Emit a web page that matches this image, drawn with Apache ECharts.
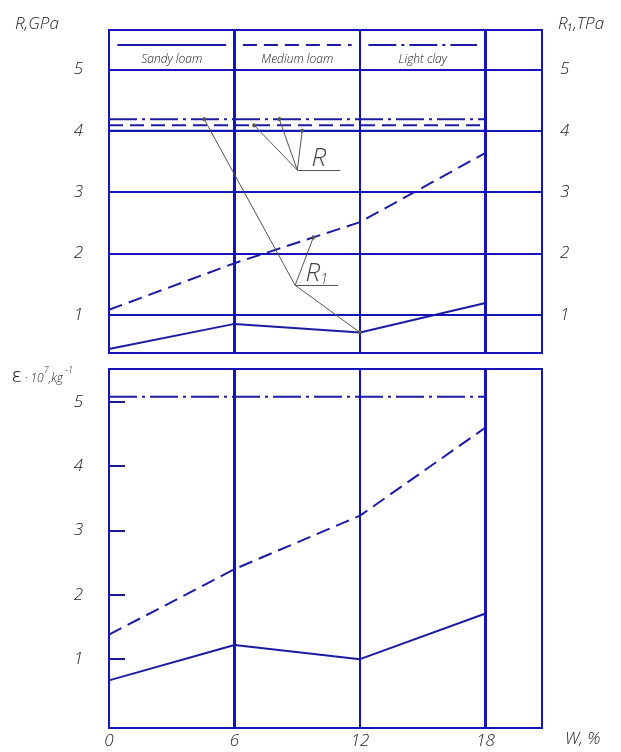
<!DOCTYPE html>
<html>
<head>
<meta charset="utf-8">
<script src="https://cdn.jsdelivr.net/npm/echarts@6/dist/echarts.min.js"></script>
<style>
html,body{margin:0;padding:0;background:#fff;}
#chart{width:621px;height:752px;}
</style>
</head>
<body>
<div id="chart"></div>
<script>
// ---------- data ----------
const xTicks = [0, 6, 12, 18];
const yTicks = [1, 2, 3, 4, 5];
const soils = ['Sandy loam', 'Medium loam', 'Light clay'];
// R, GPa (horizontal lines, top panel): sandy, medium, light
const rValues = [4.0, 4.09, 4.19];
// R1, TPa (top panel)
const r1Sandy = [0.44, 0.85, 0.71, 1.19];
const r1Medium = [1.08, 1.84, 2.51, 3.64];
// epsilon, 10^7 kg^-1 (bottom panel)
const epsSandy = [0.67, 1.22, 1.00, 1.71];
const epsMedium = [1.38, 2.40, 3.23, 4.60];
const epsLight = [5.08, 5.08, 5.08, 5.08];
// annotation anchors (data coordinates)
const rLabelAnchor = [9.0, 3.36];
const rLabelEndX = 11.06;
const rPointX = [9.24, 6.94, 8.14];
const r1LabelAnchor = [8.9, 1.48];
const r1LabelEndX = 10.96;
const r1PointX = [4.55, 9.77, 12];

// ---------- styles ----------
const GRID = '#1414b8';
const LINE = '#1c1ca2';
const TXT = '#222';
const FONT = "'Open Sans', 'DejaVu Sans', sans-serif";
const dashes = ['solid', [14, 7], [28, 5, 3, 5]];

function pairs(vals) { return xTicks.map((x, i) => [x, vals[i]]); }
function interp(vals, x) {
  for (let i = 0; i < xTicks.length - 1; i++) {
    if (x >= xTicks[i] && x <= xTicks[i + 1]) {
      const t = (x - xTicks[i]) / (xTicks[i + 1] - xTicks[i]);
      return vals[i] + (vals[i + 1] - vals[i]) * t;
    }
  }
  return vals[vals.length - 1];
}

const labelStyle = { fontFamily: FONT, fontStyle: 'italic', fontWeight: 300, fontSize: 17, color: TXT };

function gridLines(xi, yi, withH) {
  const data = [
    { xAxis: 6, lineStyle: { width: 3 } },
    { xAxis: 12, lineStyle: { width: 2 } },
    { xAxis: 18, lineStyle: { width: 3 } }
  ];
  if (withH) yTicks.forEach(v => data.push({ yAxis: v, lineStyle: { width: 2 } }));
  return {
    type: 'line', xAxisIndex: xi, yAxisIndex: yi, data: [], z: 1, silent: true,
    markLine: { silent: true, symbol: 'none', label: { show: false },
      lineStyle: { color: GRID, type: 'solid' }, data: data, animation: false }
  };
}

const series = [];
series.push(gridLines(0, 0, true));
series.push(gridLines(1, 2, false));

// top panel R horizontal lines + legend samples
soils.forEach((s, i) => {
  const lx0 = i * 6 + 0.4, lx1 = i * 6 + 5.6;
  series.push({
    name: s, type: 'line', xAxisIndex: 0, yAxisIndex: 0, z: 3,
    data: [[0, rValues[i]], [18, rValues[i]]],
    symbol: 'none', lineStyle: { color: LINE, width: 2, type: dashes[i] },
    markLine: {
      silent: true, symbol: 'none', animation: false,
      lineStyle: { color: LINE, width: 2, type: dashes[i] },
      label: { show: true, position: 'insideMiddleBottom', distance: 9, formatter: s,
        fontFamily: FONT, fontStyle: 'italic', fontWeight: 300, fontSize: 12, color: TXT },
      data: [[{ coord: [lx0, 5.40] }, { coord: [lx1, 5.40] }]]
    }
  });
});
// top panel R1 curves
series.push({ name: 'R1 sandy', type: 'line', xAxisIndex: 0, yAxisIndex: 0, z: 3,
  data: pairs(r1Sandy), symbol: 'none', lineStyle: { color: LINE, width: 2, type: dashes[0] } });
series.push({ name: 'R1 medium', type: 'line', xAxisIndex: 0, yAxisIndex: 0, z: 3,
  data: pairs(r1Medium), symbol: 'none', lineStyle: { color: LINE, width: 2, type: dashes[1] } });

// bottom panel
[epsSandy, epsMedium, epsLight].forEach((v, i) => {
  series.push({ name: 'eps ' + soils[i], type: 'line', xAxisIndex: 1, yAxisIndex: 2, z: 3,
    data: pairs(v), symbol: 'none', lineStyle: { color: LINE, width: 2, type: dashes[i] } });
});

// annotations
const rTargets = [[rPointX[0], rValues[0]], [rPointX[1], rValues[1]], [rPointX[2], rValues[2]]];
const r1Targets = [[r1PointX[0], rValues[2]], [r1PointX[1], interp(r1Medium, r1PointX[1])], [r1PointX[2], interp(r1Sandy, r1PointX[2])]];
function leader(anchor, endX, targets) {
  const d = targets.map(t => [{ coord: anchor, symbol: 'none' }, { coord: t, symbol: 'circle', symbolSize: 4 }]);
  d.push([{ coord: anchor, symbol: 'none' }, { coord: [endX, anchor[1]], symbol: 'none' }]);
  return d;
}
series.push({
  type: 'line', xAxisIndex: 0, yAxisIndex: 0, data: [], z: 4, silent: true,
  markLine: { silent: true, animation: false, label: { show: false },
    lineStyle: { color: '#555', width: 1, type: 'solid' },
    data: leader(rLabelAnchor, rLabelEndX, rTargets).concat(leader(r1LabelAnchor, r1LabelEndX, r1Targets)) }
});
series.push({
  type: 'scatter', xAxisIndex: 0, yAxisIndex: 0, z: 5, silent: true, symbolSize: 1,
  itemStyle: { color: 'rgba(0,0,0,0)' },
  data: [
    { value: [(rLabelAnchor[0] + rLabelEndX) / 2, rLabelAnchor[1]], label: { formatter: 'R' } },
    { value: [(r1LabelAnchor[0] + r1LabelEndX) / 2, r1LabelAnchor[1]], label: { formatter: 'R{s|1}' } }
  ],
  label: { show: true, position: 'top', distance: -2, fontFamily: FONT, fontStyle: 'italic', fontWeight: 300,
    fontSize: 26, color: '#111', rich: { s: { fontSize: 14, fontStyle: 'italic', fontFamily: FONT, verticalAlign: 'bottom', padding: [10, 0, 0, 0] } } }
});

const chart = echarts.init(document.getElementById('chart'), null, { renderer: 'canvas' });
chart.setOption({
  animation: false,
  backgroundColor: '#fff',
  grid: [
    { left: 109, right: 79, top: 30, height: 323, show: true, borderColor: GRID, borderWidth: 2, backgroundColor: '#fff' },
    { left: 109, right: 79, top: 369, height: 359, show: true, borderColor: GRID, borderWidth: 2, backgroundColor: '#fff' }
  ],
  xAxis: [
    { type: 'value', gridIndex: 0, min: 0, max: 20.7, interval: 6, axisLine: { show: false }, axisTick: { show: false },
      axisLabel: { show: false }, splitLine: { show: false } },
    { type: 'value', gridIndex: 1, min: 0, max: 20.7, interval: 6, axisLine: { show: false }, axisTick: { show: false },
      axisLabel: Object.assign({ customValues: xTicks, margin: 5 }, labelStyle), splitLine: { show: false } }
  ],
  yAxis: [
    { type: 'value', gridIndex: 0, min: 0.375, max: 5.644, axisLine: { show: false }, axisTick: { show: false },
      splitLine: { show: false },
      axisLabel: Object.assign({ customValues: yTicks, margin: 26, padding: [0, 0, 12, 0] }, labelStyle) },
    { type: 'value', gridIndex: 0, position: 'right', min: 0.375, max: 5.644, axisLine: { show: false }, axisTick: { show: false },
      splitLine: { show: false },
      axisLabel: Object.assign({ customValues: yTicks, margin: 18, padding: [0, 0, 12, 0] }, labelStyle) },
    { type: 'value', gridIndex: 1, min: -0.07, max: 5.51, axisLine: { show: false },
      axisTick: { show: true, inside: true, length: 16, customValues: yTicks, lineStyle: { color: '#1a1a90', width: 2 } },
      splitLine: { show: false },
      axisLabel: Object.assign({ customValues: yTicks, margin: 26, padding: [6, 0, 0, 0] }, labelStyle) }
  ],
  graphic: [
    { type: 'text', left: 15, top: 16, style: { text: 'R,GPa', font: 'italic 300 17px ' + FONT, fill: TXT } },
    { type: 'text', left: 558, top: 16, style: { text: 'R\u2081,TPa', font: 'italic 300 17px ' + FONT, fill: TXT } },
    { type: 'text', left: 565, top: 731, style: { text: 'W, %', font: 'italic 300 17px ' + FONT, fill: TXT } },
    { type: 'text', left: 12, top: 366, style: {
      text: '{e|\u03b5}{d| \u00b7 10}{sp|7}{d|,kg}{sp| -1}',
      rich: {
        e: { fontSize: 21, fontFamily: FONT, fontWeight: 300, fill: TXT, verticalAlign: 'bottom' },
        d: { fontSize: 12, fontFamily: FONT, fontStyle: 'italic', fontWeight: 300, fill: TXT, verticalAlign: 'bottom', padding: [0, 0, 2, 0] },
        sp: { fontSize: 9, fontFamily: FONT, fontStyle: 'italic', fontWeight: 300, fill: TXT, verticalAlign: 'top' }
      } } }
  ],
  series: series
});
</script>
</body>
</html>
